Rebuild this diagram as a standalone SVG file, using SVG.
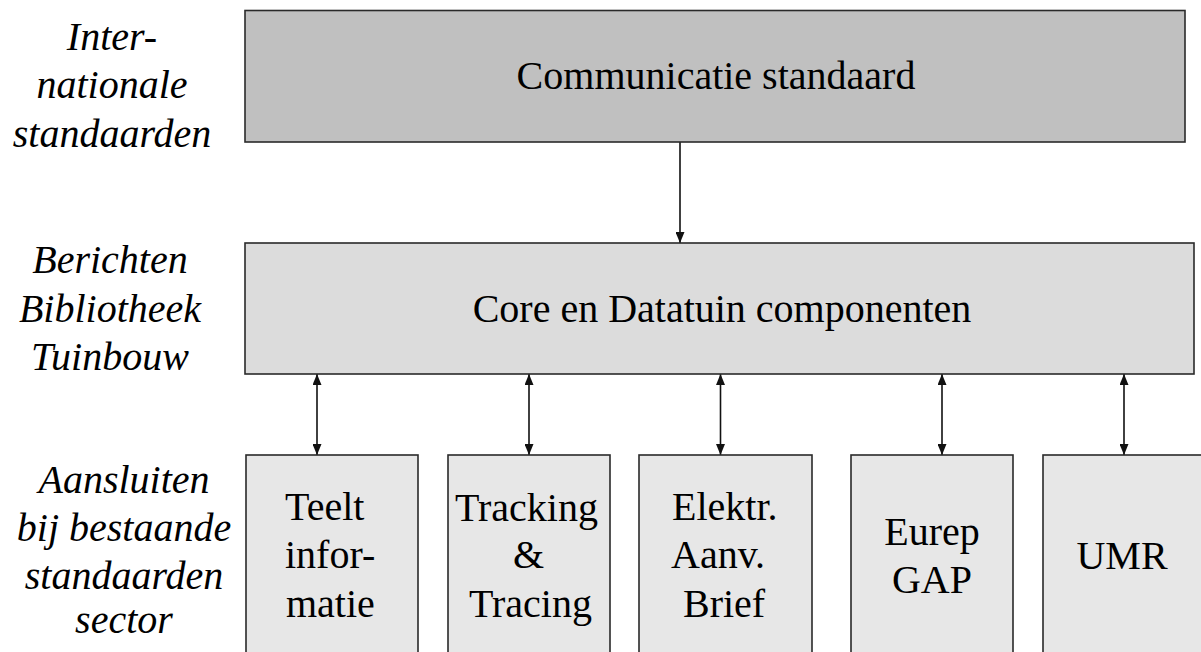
<svg xmlns="http://www.w3.org/2000/svg" width="1201" height="652" viewBox="0 0 1201 652">
  <defs>
    <style>
      .box { stroke: #2a2a2a; stroke-width: 1.6; }
      .lvl1 { fill: #c0c0c0; }
      .lvl2 { fill: #dcdcdc; }
      .lvl3 { fill: #e7e7e7; }
      .link { stroke: #111; stroke-width: 1.6; fill: none; }
    </style>
    <marker id="head" viewBox="0 0 11 9" markerUnits="userSpaceOnUse" markerWidth="11" markerHeight="9" refX="11" refY="4.5" orient="auto-start-reverse">
      <path d="M0,0 L11,4.5 L0,9 Z" fill="#111"/>
    </marker>
  </defs>

  <rect width="1201" height="652" fill="#ffffff"/>

  <!-- row captions -->
  <g font-family="Liberation Serif, Times New Roman, DejaVu Serif, serif" font-size="40" font-style="italic" fill="#000" text-anchor="middle">
    <g id="caption-top">
      <text x="112" y="50">Inter-</text>
      <text x="112" y="98">nationale</text>
      <text x="112" y="147">standaarden</text>
    </g>
    <g id="caption-middle">
      <text x="110" y="273">Berichten</text>
      <text x="110" y="322">Bibliotheek</text>
      <text x="110" y="370">Tuinbouw</text>
    </g>
    <g id="caption-bottom">
      <text x="124" y="493">Aansluiten</text>
      <text x="124" y="541">bij bestaande</text>
      <text x="124" y="589">standaarden</text>
      <text x="124" y="633">sector</text>
    </g>
  </g>

  <!-- connectors -->
  <g id="connectors">
    <line class="link" x1="680" y1="142" x2="680" y2="243" marker-end="url(#head)"/>
    <line class="link" x1="317" y1="374" x2="317" y2="455" marker-start="url(#head)" marker-end="url(#head)"/>
    <line class="link" x1="529" y1="374" x2="529" y2="455" marker-start="url(#head)" marker-end="url(#head)"/>
    <line class="link" x1="720.5" y1="374" x2="720.5" y2="455" marker-start="url(#head)" marker-end="url(#head)"/>
    <line class="link" x1="942" y1="374" x2="942" y2="455" marker-start="url(#head)" marker-end="url(#head)"/>
    <line class="link" x1="1124" y1="374" x2="1124" y2="455" marker-start="url(#head)" marker-end="url(#head)"/>
  </g>

  <g font-family="Liberation Serif, Times New Roman, DejaVu Serif, serif" font-size="40" fill="#000">
    <!-- top layer -->
    <g id="communicatie-standaard">
      <rect class="box lvl1" x="245" y="10.5" width="940" height="131.5"/>
      <text x="716" y="89" text-anchor="middle">Communicatie standaard</text>
    </g>

    <!-- middle layer -->
    <g id="core-datatuin">
      <rect class="box lvl2" x="245" y="243" width="949" height="131"/>
      <text x="722" y="322" text-anchor="middle">Core en Datatuin componenten</text>
    </g>

    <!-- sector standards -->
    <g id="teelt-informatie">
      <rect class="box lvl3" x="246" y="455" width="172" height="210"/>
      <text x="285" y="520">Teelt</text>
      <text x="285" y="568">infor-</text>
      <text x="286" y="617">matie</text>
    </g>
    <g id="tracking-tracing">
      <rect class="box lvl3" x="448" y="455" width="162" height="210"/>
      <text x="455" y="521">Tracking</text>
      <text x="513" y="568">&amp;</text>
      <text x="469" y="617">Tracing</text>
    </g>
    <g id="elektr-aanv-brief">
      <rect class="box lvl3" x="639" y="455" width="173" height="210"/>
      <text x="672" y="520">Elektr.</text>
      <text x="671" y="568">Aanv.</text>
      <text x="683" y="617">Brief</text>
    </g>
    <g id="eurep-gap">
      <rect class="box lvl3" x="851" y="455" width="162" height="210"/>
      <text x="932" y="545" text-anchor="middle">Eurep</text>
      <text x="932" y="593" text-anchor="middle">GAP</text>
    </g>
    <g id="umr">
      <rect class="box lvl3" x="1043" y="455" width="170" height="210"/>
      <text x="1122" y="569" text-anchor="middle">UMR</text>
    </g>
  </g>
</svg>
